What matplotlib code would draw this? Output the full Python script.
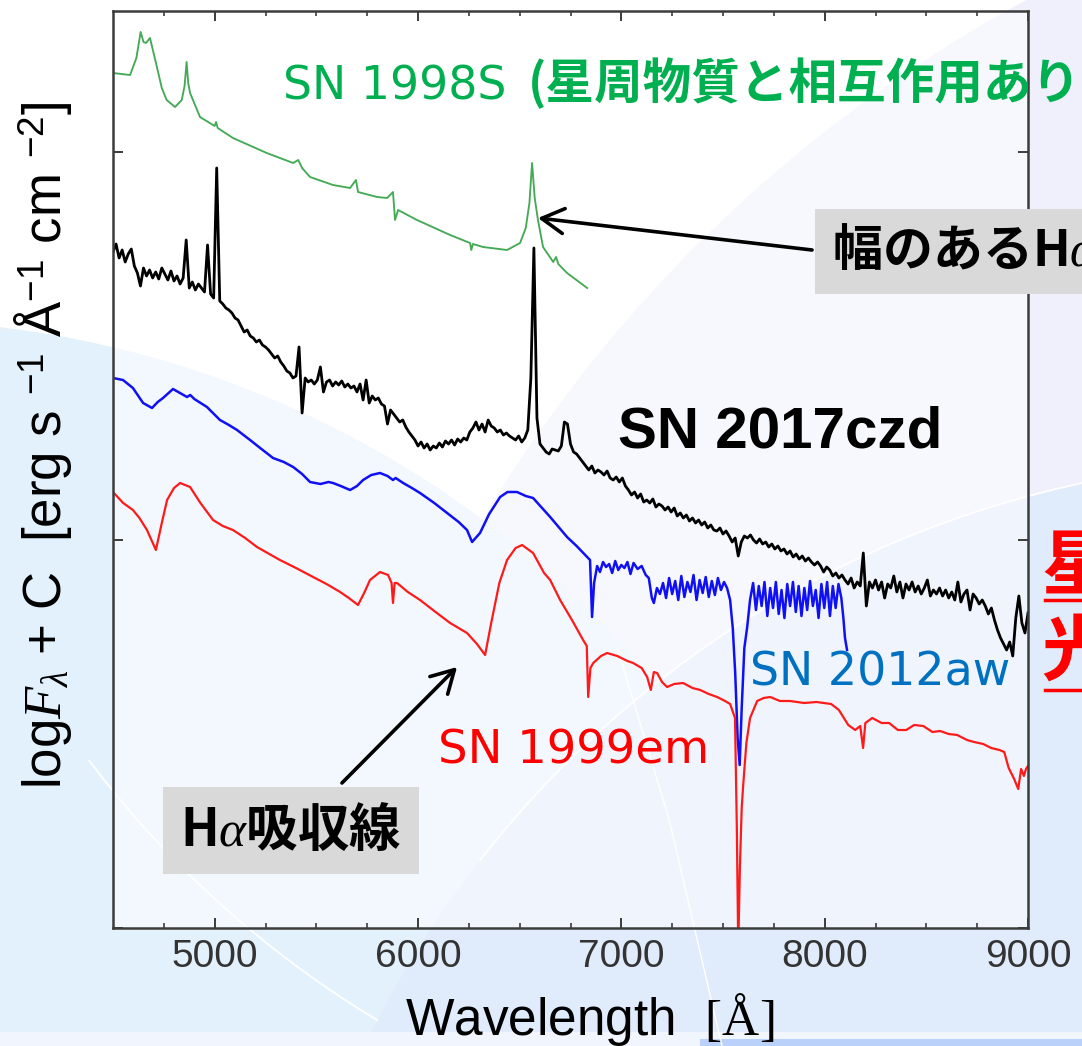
import numpy as np
import matplotlib
matplotlib.use("Agg")
import matplotlib.pyplot as plt
from matplotlib.patches import Circle, Rectangle
from matplotlib.lines import Line2D

# ---------------- data (wavelength in Angstrom, log F + C in arbitrary units) -------------
wl_1998S = [4500, 4584, 4615, 4636, 4650, 4662, 4682, 4716, 4740, 4764, 4805, 4838, 4852,
            4862, 4870, 4879, 4928, 5000, 5007, 5015, 5090, 5256, 5386, 5411, 5430, 5469,
            5582, 5666, 5695, 5705, 5799, 5848, 5877, 5887, 5902, 5995, 6158, 6256, 6262,
            6270, 6320, 6438, 6502, 6530, 6548, 6561, 6574, 6590, 6615, 6665, 6679, 6690,
            6733, 6832]
f_1998S = [8.55, 8.53, 8.70, 8.96, 8.86, 8.85, 8.90, 8.61, 8.40, 8.28, 8.21, 8.28, 8.42,
           8.66, 8.45, 8.35, 8.11, 8.02, 8.06, 8.00, 7.90, 7.75, 7.65, 7.68, 7.60, 7.51,
           7.43, 7.40, 7.48, 7.36, 7.31, 7.30, 7.36, 7.08, 7.18, 7.08, 6.93, 6.85, 6.78,
           6.84, 6.81, 6.78, 6.85, 7.00, 7.25, 7.65, 7.30, 7.08, 6.81, 6.66, 6.71, 6.64,
           6.55, 6.40]

# SN 2017czd: sampled every 15 A from 4500 to 9000
wl_2017czd = list(range(4500, 9001, 15))
f_2017czd = [
    6.76, 6.84, 6.70, 6.78, 6.66, 6.74, 6.79, 6.62, 6.55, 6.42,
    6.60, 6.52, 6.58, 6.50, 6.56, 6.49, 6.60, 6.54, 6.48, 6.57,
    6.47, 6.52, 6.44, 6.50, 6.88, 6.40, 6.46, 6.38, 6.44, 6.40,
    6.36, 6.83, 6.34, 6.30, 7.60, 6.27, 6.24, 6.20, 6.18, 6.15,
    6.10, 6.08, 6.02, 5.96, 5.98, 5.92, 5.90, 5.86, 5.88, 5.83,
    5.81, 5.78, 5.74, 5.70, 5.72, 5.66, 5.62, 5.57, 5.55, 5.50,
    5.52, 5.81, 5.15, 5.50, 5.46, 5.48, 5.44, 5.48, 5.61, 5.36,
    5.46, 5.48, 5.42, 5.46, 5.43, 5.47, 5.41, 5.44, 5.40, 5.42,
    5.36, 5.44, 5.28, 5.48, 5.25, 5.32, 5.28, 5.30, 5.24, 5.22,
    5.04, 5.18, 5.14, 5.10, 5.06, 5.08, 5.01, 4.96, 4.92, 4.88,
    4.82, 4.86, 4.80, 4.84, 4.78, 4.82, 4.80, 4.85, 4.81, 4.87,
    4.84, 4.88, 4.83, 4.89, 4.86, 4.90, 4.88, 4.96, 5.00, 5.06,
    4.98, 5.04, 4.96, 5.08, 5.02, 5.00, 4.96, 4.98, 4.93, 4.95,
    4.92, 4.90, 4.88, 4.92, 4.86, 4.90, 4.98, 5.50, 6.80, 5.10,
    4.84, 4.80, 4.76, 4.74, 4.79, 4.78, 4.77, 4.82, 5.06, 5.04,
    4.84, 4.76, 4.74, 4.70, 4.66, 4.62, 4.58, 4.62, 4.55, 4.58,
    4.56, 4.53, 4.57, 4.50, 4.48, 4.51, 4.46, 4.50, 4.42, 4.38,
    4.33, 4.36, 4.30, 4.34, 4.26, 4.28, 4.25, 4.29, 4.21, 4.24,
    4.22, 4.18, 4.21, 4.16, 4.20, 4.12, 4.15, 4.10, 4.13, 4.07,
    4.10, 4.05, 4.08, 4.03, 4.06, 4.00, 4.03, 3.98, 3.97, 4.00,
    3.94, 3.97, 3.92, 3.86, 3.90, 3.72, 3.86, 3.92, 3.90, 3.93,
    3.88, 3.85, 3.89, 3.84, 3.86, 3.81, 3.84, 3.79, 3.82, 3.77,
    3.79, 3.74, 3.77, 3.71, 3.74, 3.69, 3.72, 3.67, 3.70, 3.66,
    3.63, 3.66, 3.62, 3.56, 3.61, 3.58, 3.52, 3.55, 3.50, 3.53,
    3.48, 3.44, 3.50, 3.40, 3.46, 3.42, 3.75, 3.22, 3.46, 3.40,
    3.48, 3.38, 3.46, 3.30, 3.44, 3.40, 3.52, 3.36, 3.46, 3.30,
    3.44, 3.38, 3.46, 3.36, 3.42, 3.34, 3.40, 3.48, 3.32, 3.38,
    3.34, 3.40, 3.32, 3.38, 3.30, 3.36, 3.28, 3.46, 3.26, 3.34,
    3.38, 3.18, 3.34, 3.30, 3.24, 3.28, 3.22, 3.14, 3.20, 3.08,
    2.98, 2.90, 2.84, 2.78, 2.86, 2.72, 3.10, 3.32, 3.05, 2.95,
    3.15]

wl_2012aw = [4500, 4549, 4598, 4648, 4692, 4720, 4746, 4795, 4830, 4864, 4880, 4900, 4962,
             5026, 5070, 5110, 5174, 5230, 5287, 5340, 5386, 5430, 5469, 5520, 5560, 5582,
             5620, 5666, 5700, 5730, 5770, 5813, 5850, 5877, 5890, 5927, 5970, 6010, 6080,
             6143, 6200, 6241, 6266, 6305, 6350, 6404, 6440, 6487, 6530, 6566, 6610, 6650,
             6700, 6733, 6780, 6832, 6846, 6856, 6866, 6881, 6895, 6910, 6925, 6940, 6955,
             6970, 6985, 7000, 7015, 7030, 7045, 7060, 7080, 7100, 7120, 7135, 7150, 7160,
             7175, 7190, 7205, 7220, 7235, 7250, 7265, 7280, 7295, 7310, 7325, 7340, 7355,
             7370, 7385, 7400, 7415, 7430, 7445, 7460, 7475, 7490, 7505, 7520, 7535, 7548,
             7560, 7572, 7582, 7592, 7605, 7619, 7633, 7648, 7662, 7676, 7690, 7704, 7718,
             7732, 7746, 7760, 7774, 7788, 7802, 7816, 7830, 7844, 7858, 7872, 7886, 7900,
             7914, 7928, 7942, 7956, 7970, 7984, 7998, 8012, 8026, 8040, 8054, 8068, 8082,
             8092, 8100, 8110]
f_2012aw = [5.50, 5.48, 5.40, 5.25, 5.20, 5.26, 5.30, 5.39, 5.35, 5.31, 5.33, 5.29, 5.21,
            5.08, 5.03, 4.98, 4.88, 4.79, 4.70, 4.66, 4.61, 4.54, 4.46, 4.44, 4.46, 4.45,
            4.42, 4.38, 4.42, 4.48, 4.53, 4.55, 4.52, 4.48, 4.50, 4.45, 4.40, 4.35, 4.25,
            4.15, 4.06, 3.98, 3.86, 3.95, 4.14, 4.31, 4.36, 4.36, 4.32, 4.30, 4.20, 4.11,
            3.99, 3.91, 3.82, 3.71, 3.68, 3.11, 3.45, 3.62, 3.56, 3.66, 3.61, 3.64, 3.55,
            3.67, 3.58, 3.63, 3.60, 3.66, 3.54, 3.65, 3.59, 3.62, 3.53, 3.50, 3.30, 3.25,
            3.40, 3.34, 3.45, 3.30, 3.50, 3.34, 3.47, 3.28, 3.52, 3.31, 3.46, 3.36, 3.53,
            3.28, 3.48, 3.35, 3.51, 3.31, 3.47, 3.33, 3.50, 3.38, 3.46, 3.40, 3.28, 3.00,
            2.55, 1.90, 1.63, 2.20, 2.80, 3.01, 3.28, 3.45, 3.18, 3.42, 3.22, 3.46, 3.12,
            3.40, 3.20, 3.46, 3.14, 3.38, 3.10, 3.44, 3.22, 3.46, 3.16, 3.42, 3.12, 3.40,
            3.18, 3.47, 3.22, 3.38, 3.10, 3.44, 3.20, 3.46, 3.12, 3.42, 3.20, 3.44, 3.30,
            3.10, 2.90, 2.78]

wl_1999em = [4500, 4550, 4598, 4630, 4667, 4711, 4740, 4766, 4800, 4830, 4879, 4930, 4992,
             5040, 5090, 5150, 5208, 5260, 5321, 5400, 5484, 5550, 5617, 5660, 5705, 5735,
             5764, 5813, 5853, 5870, 5877, 5885, 5897, 5950, 6010, 6080, 6158, 6241, 6290,
             6330, 6360, 6400, 6438, 6480, 6512, 6566, 6620, 6650, 6699, 6760, 6812, 6830,
             6837, 6848, 6862, 6900, 6930, 6980, 7030, 7058, 7100, 7127, 7145, 7160, 7176,
             7200, 7225, 7260, 7304, 7350, 7388, 7430, 7471, 7510, 7535, 7559, 7568, 7575,
             7583, 7592, 7599, 7615, 7633, 7668, 7700, 7732, 7780, 7830, 7899, 7960, 8032,
             8070, 8116, 8150, 8175, 8189, 8200, 8234, 8280, 8317, 8360, 8401, 8440, 8485,
             8530, 8568, 8610, 8652, 8700, 8735, 8780, 8819, 8860, 8883, 8905, 8932, 8952,
             8966, 8980, 8990, 9000]
f_1999em = [4.36, 4.25, 4.18, 4.10, 3.98, 3.78, 4.05, 4.28, 4.40, 4.45, 4.41, 4.25, 4.08,
            4.02, 3.98, 3.90, 3.81, 3.75, 3.68, 3.60, 3.51, 3.44, 3.36, 3.30, 3.23, 3.35,
            3.48, 3.56, 3.53, 3.45, 3.25, 3.45, 3.45, 3.36, 3.28, 3.17, 3.05, 2.95, 2.84,
            2.73, 3.05, 3.45, 3.68, 3.80, 3.83, 3.75, 3.55, 3.48, 3.28, 3.07, 2.88, 2.82,
            2.31, 2.60, 2.65, 2.72, 2.75, 2.72, 2.67, 2.65, 2.60, 2.51, 2.38, 2.56, 2.55,
            2.46, 2.41, 2.44, 2.45, 2.40, 2.38, 2.34, 2.31, 2.27, 2.24, 2.10, 1.00, -0.20,
            0.60, 1.20, 1.42, 1.85, 2.10, 2.27, 2.30, 2.31, 2.27, 2.27, 2.25, 2.26, 2.24,
            2.18, 2.03, 1.98, 2.02, 1.80, 2.05, 2.10, 2.05, 2.05, 1.98, 1.98, 2.03, 2.02,
            1.96, 1.97, 1.94, 1.93, 1.88, 1.86, 1.84, 1.80, 1.78, 1.76, 1.60, 1.49, 1.39,
            1.59, 1.52, 1.59, 1.62]

x_ticks = [5000, 6000, 7000, 8000, 9000]
x_tick_labels = ["5000", "6000", "7000", "8000", "9000"]
x_minor = [4750, 5250, 5500, 5750, 6250, 6500, 6750, 7250, 7500, 7750, 8250, 8500, 8750]
y_ticks = [0.0, 3.88, 7.76]

# arrow targets (data coords)
halpha_emis_tip = (6590, 7.10)
halpha_emis_tail = (7938, 6.78)
halpha_abs_tip = (6192, 2.61)
halpha_abs_tail = (5626, 1.45)

# ---------------- figure ----------------
plt.rcParams["mathtext.fontset"] = "custom"
plt.rcParams["mathtext.rm"] = "Liberation Sans"
plt.rcParams["mathtext.it"] = "Liberation Serif:italic"
plt.rcParams["mathtext.bf"] = "Liberation Sans:bold"
plt.rcParams["mathtext.sf"] = "Liberation Serif"

W, H = 1082, 1046
DPI = 100
fig = plt.figure(figsize=(W / DPI, H / DPI), dpi=DPI)
fig.patch.set_facecolor("#ffffff")


def fx(px):
    return px / W


def fy(py):
    return 1 - py / H


# background decoration (slide)
bg = fig.add_axes([0, 0, 1, 1], zorder=-10)
bg.set_xlim(0, W)
bg.set_ylim(H, 0)
bg.axis("off")
bg.add_patch(Circle((1700, 1250), 1420, color="#eff0fc", lw=0))
bg.add_patch(Circle((-120, 1330), 1010, color="#e3f1fc", lw=0))
bg.add_patch(Circle((1300, 1500), 1040, color="#e0ebfb", lw=0))
t = np.radians(np.linspace(-142, -100, 60))
bg.plot(1300 + 1040 * np.cos(t), 1500 + 1040 * np.sin(t), color="white", lw=1.3)
t2 = np.radians(np.linspace(121, 143, 60))
bg.plot(900 + 1015 * np.cos(t2), 150 + 1015 * np.sin(t2), color="white", lw=1.3)
bg.plot([618, 669, 722], [650, 819, 1046], color="white", lw=1.0)
bg.add_patch(Rectangle((0, 1032), W, 14, color="#f1f5fd", lw=0))
bg.add_patch(Rectangle((700, 1039), 382, 7, color="#bad2fa", lw=0))

# main axes
ax = fig.add_axes([fx(113), fy(928), (1028 - 113) / W, (928 - 11) / H])
ax.set_facecolor((1, 1, 1, 0.55))
ax.set_xlim(4500, 9000)
ax.set_ylim(0, 9.17)

ax.plot(wl_1998S, f_1998S, color="#45aa55", lw=1.35)
ax.plot(wl_2017czd, f_2017czd, color="#000000", lw=2.0)
ax.plot(wl_2012aw, f_2012aw, color="#1010f5", lw=1.8)
ax.plot(wl_1999em, f_1999em, color="#ff1a1a", lw=1.6)

ax.set_xticks(x_ticks, x_tick_labels)
ax.set_xticks(x_minor, minor=True)
ax.set_yticks(y_ticks, [])
ax.tick_params(which="both", direction="in", top=True, right=True, color="#3c3c3c")
ax.tick_params(which="major", length=7, width=1.4, pad=8, labelsize=28,
               labelcolor="#333333")
ax.tick_params(which="minor", length=3.5, width=1.2)
for lab in ax.get_xticklabels():
    lab.set_family("Liberation Sans")
for sp in ax.spines.values():
    sp.set_color("#3c3c3c")
    sp.set_linewidth(1.8)

# arrows
arrow_kw = dict(arrowstyle="->,head_length=0.8,head_width=0.45", lw=2.6, color="black",
                shrinkA=0, shrinkB=0, mutation_scale=20)
ax.annotate("", xy=halpha_emis_tip, xytext=halpha_emis_tail, arrowprops=arrow_kw,
            annotation_clip=False)
ax.annotate("", xy=halpha_abs_tip, xytext=halpha_abs_tail, arrowprops=arrow_kw,
            annotation_clip=False)

# axis labels
fig.text(fx(43), fy(445),
         r"log$F_\lambda$ + C  [erg s $^{-1}$ Å$^{-1}$ cm $^{-2}$]",
         rotation=90, ha="center", va="center", fontsize=38, family="Liberation Sans")
fig.text(fx(405), fy(1035), r"Wavelength  $\mathsf{[Å]}$", fontsize=37,
         family="Liberation Sans", va="baseline", ha="left")

# spectrum labels
fig.text(fx(283), fy(100), "SN 1998S", color="#00b050", fontsize=33,
         family="DejaVu Sans", va="baseline")
fig.text(fx(528), fy(99), "(星周物質と相互作用あり", color="#00b050", fontsize=35,
         family="Noto Sans CJK JP", weight="bold", va="baseline")
fig.text(fx(618), fy(447), "SN 2017czd", color="black", fontsize=42,
         family="Liberation Sans", weight="bold", va="baseline")
fig.text(fx(750), fy(685), "SN 2012aw", color="#0070c0", fontsize=33,
         family="DejaVu Sans", va="baseline")
fig.text(fx(438), fy(763), "SN 1999em", color="#ff0000", fontsize=33.5,
         family="DejaVu Sans", va="baseline")

box = dict(boxstyle="square,pad=0.34", fc="#d9d9d9", ec="none")
fig.text(fx(832), fy(266), r"幅のあるH$\alpha$", fontsize=36, family="Noto Sans CJK JP",
         weight="bold", va="baseline", bbox=box)
fig.text(fx(180), fy(846), r"H$\alpha$吸収線", fontsize=37, family="Noto Sans CJK JP",
         weight="bold", va="baseline", bbox=box)

# cut-off red underlined text at right edge
fig.text(fx(1041), fy(590), "星", color="#ff0000", fontsize=52,
         family="Noto Sans CJK JP", weight="bold", va="baseline")
fig.text(fx(1041), fy(675), "光", color="#ff0000", fontsize=52,
         family="Noto Sans CJK JP", weight="bold", va="baseline")
fig.add_artist(Line2D([fx(1045), 1.0], [fy(600), fy(600)], color="#ff0000", lw=2.5))
fig.add_artist(Line2D([fx(1045), 1.0], [fy(690), fy(690)], color="#ff0000", lw=2.5))

fig.savefig("out.png", dpi=DPI)
